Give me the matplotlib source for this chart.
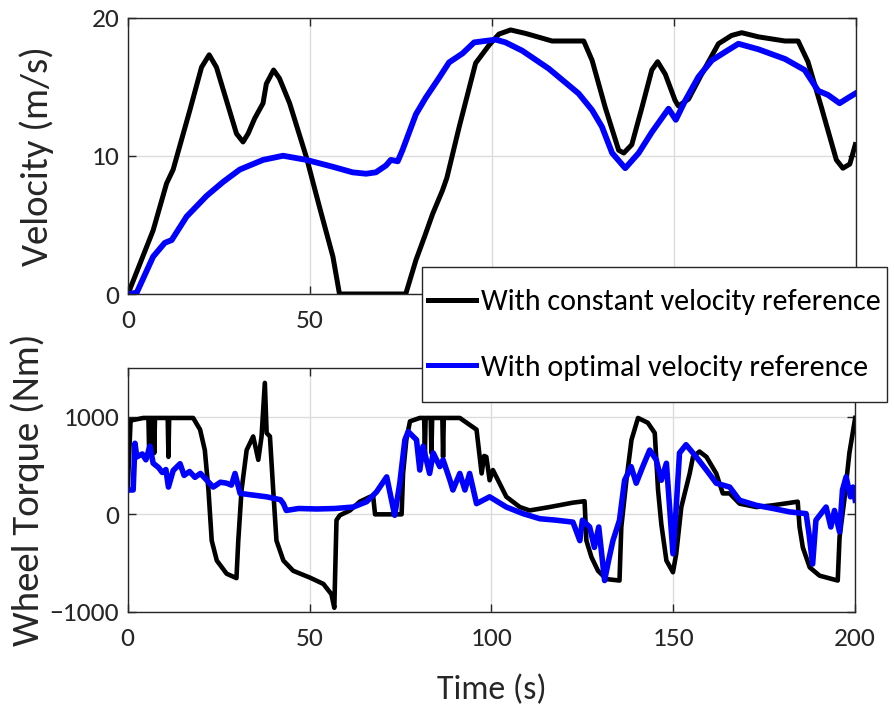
import matplotlib
matplotlib.use("Agg")
import matplotlib.pyplot as plt
from matplotlib import font_manager
from matplotlib.patches import Rectangle
from matplotlib.textpath import TextPath
from matplotlib.font_manager import FontProperties

names = {f.name for f in font_manager.fontManager.ttflist}
fam = 'DejaVu Sans'
for cand in ['Carlito', 'PT Sans Narrow', 'Liberation Sans Narrow', 'Fira Sans Condensed',
             'Encode Sans Semi Condensed', 'Asap Condensed', 'Sofia Sans Semi Condensed',
             'Roboto Condensed', 'Open Sans Condensed', 'IBM Plex Sans Condensed', 'Archivo Narrow',
             'Pragati Narrow', 'Cabin Condensed', 'Ubuntu Condensed', 'Barlow Semi Condensed',
             'Encode Sans Condensed', 'Sofia Sans Condensed', 'Lato']:
    if cand in names:
        fam = cand
        break
plt.rcParams['font.family'] = [fam, 'DejaVu Sans']

# ---- Velocity data ----
t_vc = [0, 5.1, 6.9, 10.6, 12.4, 17, 20.2, 22.3, 24.3, 29.8, 31.6, 33, 34.8, 37.1, 38, 40, 41.6, 44.4,
        49, 52.6, 56.3, 58.1, 76.3, 79.1, 81.4, 83.7, 86.4, 87.6, 91, 95.5, 99.2, 101.9, 105.1, 109.2,
        116.5, 125.2, 127.5, 131.1, 134.8, 136.2, 138.4, 141.2, 143.9, 145.5, 147.6, 150.3, 151.2, 154,
        157.6, 162.2, 165.8, 168.6, 173.2, 180.5, 184.1, 186.8, 190.5, 194.6, 196.4, 198.3, 199.8]
v_const = [0, 3.4, 4.6, 8.0, 9.0, 13.3, 16.4, 17.3, 16.4, 11.6, 11.0, 11.6, 12.7, 13.8, 15.2, 16.2, 15.6, 13.8,
           9.9, 6.3, 2.7, 0, 0, 2.45, 4.1, 5.8, 7.5, 8.4, 12.1, 16.7, 18.0, 18.8, 19.1, 18.85,
           18.3, 18.3, 16.9, 13.5, 10.4, 10.2, 10.8, 13.5, 16.2, 16.8, 15.9, 14.0, 13.6, 14.1,
           15.9, 18.1, 18.7, 18.9, 18.6, 18.3, 18.3, 16.8, 13.5, 9.7, 9.1, 9.4, 10.8]

t_vo = [0, 0.3, 2.4, 6.9, 10.1, 12, 16.1, 21.6, 26.1, 30.7, 37.1, 42.6, 49, 56.3, 61.7, 65.4, 68.1, 70.9,
        72.2, 74.1, 75.4, 79.1, 81.8, 85.5, 88.2, 91.9, 95.1, 101, 103.7, 108.3, 115.6, 123.8, 127.5,
        130.2, 133, 136.6, 140.3, 143.9, 148.5, 150.5, 153.1, 156.7, 160.4, 164, 167.7, 173.2, 180.5,
        185.9, 189.6, 192.3, 195.5, 197.3, 199.8]
v_opt = [0, 0, 0.1, 2.7, 3.7, 3.9, 5.6, 7.1, 8.1, 9.0, 9.7, 10.0, 9.7, 9.2, 8.8, 8.7, 8.8, 9.3,
         9.7, 9.6, 10.4, 13.0, 14.2, 15.65, 16.75, 17.4, 18.2, 18.4, 18.2, 17.6, 16.3, 14.5, 13.3,
         12.1, 10.2, 9.1, 10.2, 11.7, 13.4, 12.6, 14.0, 15.7, 16.9, 17.5, 18.1, 17.7, 17.0,
         16.2, 14.7, 14.4, 13.8, 14.1, 14.5]

# ---- Torque data ----
t_tc = [0, 0.8, 1.6, 4.3, 5.7, 5.9, 6.1, 7.1, 7.3, 7.5, 11.0, 11.2, 11.4, 18, 19.9, 21.2, 22.2, 23.1, 24.5,
        27.2, 29.9, 30.4, 31.3, 32.7, 34.5, 35.9, 36.8, 37.7, 38.2, 39.1, 40, 40.9, 42.8, 45.5,
        50.1, 53.8, 56, 56.8, 57.4, 58.3, 61.1, 63.8, 66.6, 67.5, 68, 75.3, 75.7, 76.6, 77.6, 80.3,
        81.5, 81.7, 81.9, 83.3, 83.5, 83.7, 86.5, 86.7, 86.9, 91.3, 95.9, 97.3, 98.0, 98.6, 99.5, 100.4,
        104.1, 107.8, 110.5, 116, 122.4, 125.6, 126.1, 127.5, 129.3, 131.6, 135.2, 135.7, 137.1,
        138.5, 140.3, 143, 144.9, 145.8, 146.7, 148.1, 149.9, 150.8, 152.2, 154.5, 155.4, 157.2,
        159.1, 161.8, 163.6, 165.5, 168.2, 172.8, 177.4, 184.2, 184.7, 185.6, 187.5, 190.2, 195.2,
        195.7, 197, 198.4, 200]
T_const = [250, 970, 970, 990, 990, 630, 990, 990, 630, 990, 990, 590, 990, 990, 870, 660, 250, -270, -475,
           -610, -655, -270, 250, 660, 800, 560, 800, 1350, 835, 800, 250, -270, -475, -580,
           -650, -715, -820, -960, -60, -10, 40, 130, 180, 180, 0, 0, 420, 765, 955, 990,
           990, 630, 990, 990, 630, 990, 990, 590, 990, 990, 870, 420, 600, 590, 350, 455,
           180, 75, 40, 75, 120, 135, -270, -440, -580, -665, -680, -130, 350,
           765, 990, 940, 835, 250, -100, -475, -595, -405, 75, 420, 590, 645,
           590, 420, 215, 215, 110, 75, 93, 130, -130, -340, -545, -630, -680,
           -235, 145, 630, 990]

t_to = [0, 1.5, 2.0, 2.5, 4, 5, 6.1, 7, 8.5, 9.5, 10.5, 11.2, 12.5, 14.4, 15.5, 17, 18.5, 20, 21.5, 23.5,
        25.5, 27.2, 28.5, 29.5, 30.9, 34, 38.2, 42, 42.8, 43.6, 47, 52, 57, 62, 65.7, 68.4, 71.2,
        73.4, 74.8, 76.2, 77.1, 79.4, 80.3, 81.2, 83, 84, 85.8, 86.7, 88.6, 89.4, 91.3, 92.7, 94,
        95.9, 99.5, 104.1, 108.7, 113.3, 117.8, 122.4, 124.3, 125, 127, 128.3, 129.5, 131.1, 132.2,
        133.4, 135.2, 136.6, 138.4, 139.8, 141.6, 143.5, 145.3, 146.7, 148.1, 149.9, 150.8,
        151.7, 153.5, 156.3, 159.1, 161.8, 165.5, 168.2, 172.8, 177.4, 182, 186.5, 187.3, 188.3,
        189.2, 192, 193.3, 194.3, 195.7, 196.5, 197.5, 198.7, 199.4, 200]
T_opt = [250, 250, 730, 590, 620, 560, 700, 525, 480, 430, 460, 280, 450, 520, 400, 440, 380, 420, 360, 280,
         330, 320, 300, 420, 215, 200, 180, 150, 110, 40, 60, 55, 60, 75, 130, 230, 385,
         -10, 320, 765, 850, 765, 455, 700, 420, 630, 490, 560, 350, 250, 420, 250, 420,
         110, 180, 75, 7, -45, -60, -80, -270, -60, -130, -340, -130, -680, -475,
         -270, -60, 350, 490, 320, 490, 660, 560, 350, 525, -405, 75,
         630, 715, 590, 455, 320, 280, 145, 93, 60, 25, 7, -200, -510,
         -60, 75, -130, 40, -180, 250, 385, 180, 280, 145]

labels = ['With constant velocity reference', 'With optimal velocity reference']

TXT = '#262626'
W, H = 895, 709
fig = plt.figure(figsize=(W / 100, H / 100), dpi=100)
renderer = fig.canvas.get_renderer()
prop = FontProperties(family=[fam, 'DejaVu Sans'])


def size_by_width(s, target_px):
    t = fig.text(0, 0, s, fontsize=10)
    w = t.get_window_extent(renderer).width
    t.remove()
    return 10 * target_px / w


def size_by_height(s, target_px):
    hh = TextPath((0, 0), s, size=10, prop=prop).get_extents().height
    return 10 * (target_px * 0.72) / hh


def compromise(s, wpx, glyph, hpx, wmax=None):
    a = size_by_width(s, wpx)
    b = size_by_height(glyph, hpx)
    sz = (a * b) ** 0.5
    if wmax is not None:
        sz = min(sz, size_by_width(s, wmax))
    return sz


fs_leg = compromise(labels[0], 392, 'W', 24, wmax=400)
fs_tick = min(compromise('1000', 60, '1000', 23), size_by_width('\u22121000', 70))
fs_lab = compromise('Velocity (m/s)', 219, 'V', 25)
fs_time = compromise('Time (s)', 95, 'T', 25)

ax1 = fig.add_axes([128 / W, 1 - 294 / H, 728 / W, 276.5 / H])
ax2 = fig.add_axes([127.7 / W, 1 - 611.7 / H, 727.5 / W, 243.4 / H])

for ax in (ax1, ax2):
    ax.grid(True, color='#dcdcdc', linewidth=1.0)
    ax.set_axisbelow(True)
    for s in ax.spines.values():
        s.set_color(TXT)
        s.set_linewidth(1.0)
    ax.tick_params(direction='in', length=6, width=1, colors=TXT, labelsize=fs_tick,
                   top=True, right=True)
    ax.tick_params(axis='x', pad=11)
    ax.tick_params(axis='y', pad=6)
    ax.set_xlim(0, 200)
    ax.set_xticks([0, 50, 100, 150, 200])

ax1.plot(t_vc, v_const, color='black', lw=3.6, solid_joinstyle='round', label=labels[0])
ax1.plot(t_vo, v_opt, color='#0000ff', lw=4.2, solid_joinstyle='round', label=labels[1])
ax1.set_ylim(0, 20)
ax1.set_yticks([0, 10, 20])
# tick labels at 100, 150, 200 are hidden behind the legend box in the reference
ax1.set_xticklabels(['0', '50', '', '', ''])
ax1.set_ylabel('Velocity (m/s)', fontsize=fs_lab, color=TXT, va='center')
ax1.yaxis.set_label_coords(-0.126, 0.5)

ax2.plot(t_tc, T_const, color='black', lw=3.3, solid_joinstyle='round')
ax2.plot(t_to, T_opt, color='#0000ff', lw=4.0, solid_joinstyle='round')
ax2.set_ylim(-1000, 1500)
ax2.set_yticks([-1000, 0, 1000])
ax2.set_ylabel('Wheel Torque (Nm)', fontsize=fs_lab, color=TXT, va='center')
ax2.yaxis.set_label_coords(-0.137, 0.5)
ax2.set_xlabel('Time (s)', fontsize=fs_time, color=TXT, va='center')
ax2.xaxis.set_label_coords(0.5, -0.322)

fs_px = fs_leg * 100 / 72
h, l = ax1.get_legend_handles_labels()
leg = fig.legend(h, l, loc='center left', bbox_to_anchor=(428 / W, 1 - 335 / H), fontsize=fs_leg,
                 frameon=False, handlelength=48 / fs_px, handletextpad=5 / fs_px,
                 labelspacing=0.8 + 15 / fs_px, borderpad=0, borderaxespad=0)
leg.set_zorder(5)
for txt in leg.get_texts():
    txt.set_color('black')
for lh in leg.get_lines():
    lh.set_linewidth(3.6)

fig.canvas.draw()
bb = leg.get_window_extent(renderer)
right = max(879, min(bb.x1 + 6, W - 2))
frame = Rectangle((422 / W, 1 - 402 / H), (right - 422) / W, 135 / H, transform=fig.transFigure,
                  facecolor='white', edgecolor=TXT, linewidth=1.0, zorder=4)
fig.patches.append(frame)

fig.savefig('out.png', dpi=100)
